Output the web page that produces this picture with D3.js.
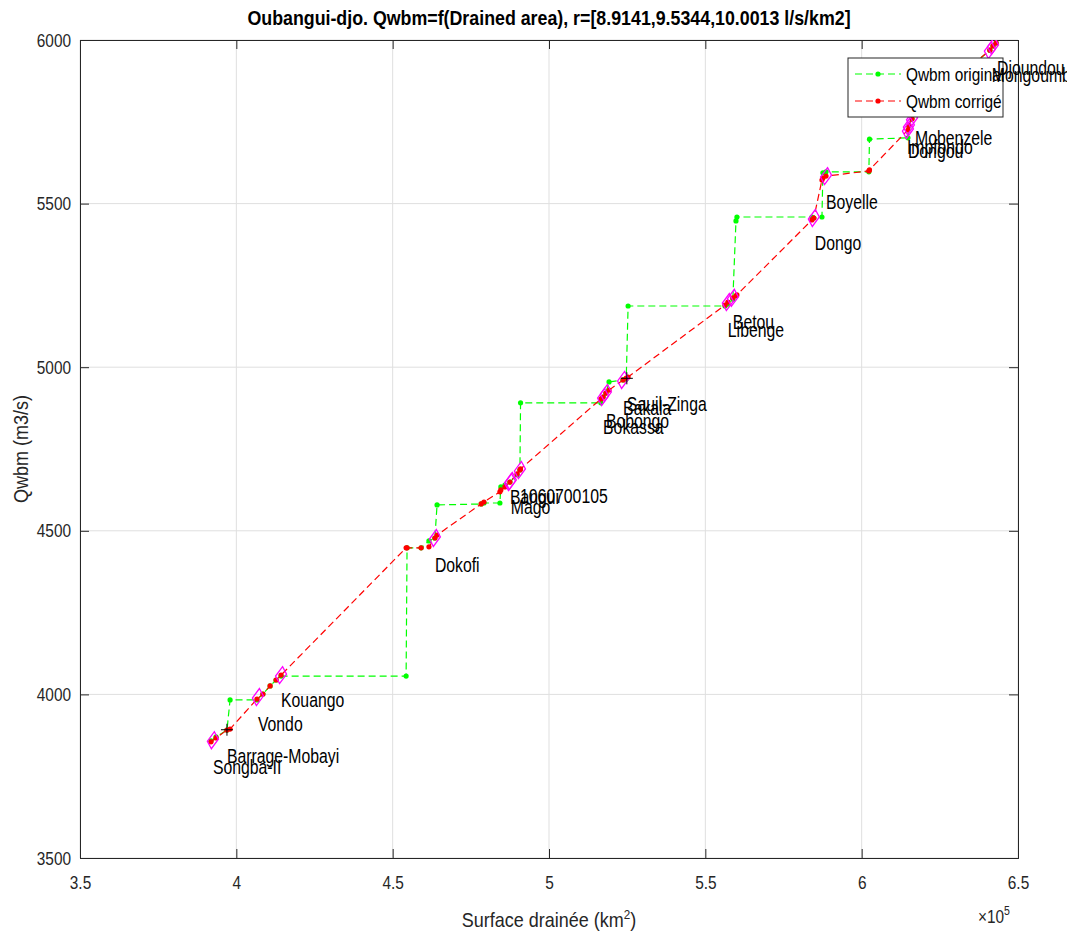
<!DOCTYPE html>
<html><head><meta charset="utf-8">
<script src="https://cdn.jsdelivr.net/npm/d3@7"></script>
<style>
body{margin:0;background:#fff;}
text{font-family:"Liberation Sans",Arial,Helvetica,sans-serif;}
</style></head>
<body><svg id="c" width="1067" height="933"></svg>
<script>
// ---- data ----
const areas = [391900,393500,397000,398000,406600,408500,410800,412700,414300,454300,454600,459100,461600,463500,464200,478300,479200,484300,484600,485900,487500,489800,490700,490900,516600,517300,518200,519200,523700,524700,525300,556300,557200,558800,559800,560100,584100,584700,587300,587600,588600,602300,602500,614800,615100,616100,617100,641000,642000,643000];
const qOriginal = [3858,3870,3891,3983,3983,4001,4026,4044,4056,4056,4448,4448,4469,4478,4579,4582,4585,4585,4634,4640,4649,4671,4686,4891,4891,4909,4921,4955,4961,4964,5187,5187,5193,5208,5447,5459,5459,5456,5459,5594,5597,5597,5697,5701,5737,5759,5774,5969,5982,5991];
const qCorrige = [3855,3867,3891,3894,3986,4001,4026,4044,4059,4448,4448,4448,4451,4478,4487,4582,4588,4619,4625,4634,4649,4674,4686,4689,4903,4909,4921,4930,4961,4967,4970,5190,5199,5212,5218,5221,5450,5456,5572,5578,5584,5600,5603,5725,5737,5759,5774,5969,5982,5991];

const stationNames = ["Songba-II","Vondo","Kouango","Dokofi","Bangui","1060700105","Mago","Bokassa","Bobongo","Bakala","Libenge","Betou","Dongo","Boyelle","Dongou","Impfondo","Mobenzele","Mongoumba","Djoundou"];
const stationAreas = [392500,406900,414300,463500,487500,490700,487800,517300,518200,523700,557200,558800,584700,588600,614800,615100,616100,641000,642000];
const stationQ     = [3860,3992,4059,4478,4649,4686,4652,4909,4921,4961,5199,5212,5456,5584,5725,5737,5759,5969,5982];
const labelDx      = [0,0,0,0,0,0,0,0,0,0,0,0,1,0,0,-2,3,2,4];
const labelDy      = [27,27,25,27,15,26,26,30,28,28,28,24,25,26,21,21,19,25,22];

const crossNames = ["Barrage-Mobayi","Sauil-Zinga"];
const crossAreas = [397000,524900];
const crossQ     = [3892,4966];

const xTicks = [350000,400000,450000,500000,550000,600000,650000];
const xTickLabels = ["3.5","4","4.5","5","5.5","6","6.5"];
const yTicks = [3500,4000,4500,5000,5500,6000];

const titleText = "Oubangui-djo. Qwbm=f(Drained area), r=[8.9141,9.5344,10.0013 l/s/km2]";
const legendLabels = ["Qwbm original","Qwbm corrigé"];
const seriesColors = ["#00ff00","#ff0000"];

// ---- layout ----
const L=80,R=1018,T=40,B=858;
const SX=0.81;
const svg=d3.select("#c");
const x=d3.scaleLinear().domain([350000,650000]).range([L,R]);
const y=d3.scaleLinear().domain([3500,6000]).range([B,T]);

function cond(sel,sx,extra){
  sel.each(function(){
    const t=d3.select(this);
    const px=+t.attr("x")||0, py=+t.attr("y")||0;
    t.attr("x",0).attr("y",0).attr("transform",`translate(${px},${py})${extra||""} scale(${sx},1)`);
  });
}

// grid
svg.append("g").selectAll("line").data(xTicks).join("line")
  .attr("x1",d=>x(d)).attr("x2",d=>x(d)).attr("y1",T).attr("y2",B)
  .attr("stroke","#dfdfdf").attr("stroke-width",1);
svg.append("g").selectAll("line").data(yTicks).join("line")
  .attr("x1",L).attr("x2",R).attr("y1",d=>y(d)).attr("y2",d=>y(d))
  .attr("stroke","#dfdfdf").attr("stroke-width",1);

// axes
const gx=svg.append("g").attr("transform",`translate(0,${B})`)
  .call(d3.axisBottom(x).tickValues(xTicks).tickFormat((d,i)=>xTickLabels[i]).tickSize(-9).tickPadding(18));
const gy=svg.append("g").attr("transform",`translate(${L},0)`)
  .call(d3.axisLeft(y).tickValues(yTicks).tickFormat(d=>String(d)).tickSize(-9).tickPadding(9));
const gx2=svg.append("g").attr("transform",`translate(0,${T})`)
  .call(d3.axisTop(x).tickValues(xTicks).tickFormat("").tickSize(-9));
const gy2=svg.append("g").attr("transform",`translate(${R},0)`)
  .call(d3.axisRight(y).tickValues(yTicks).tickFormat("").tickSize(-9));
[gx,gy,gx2,gy2].forEach(g=>{
  g.selectAll("path").attr("stroke","#262626").attr("stroke-width",1);
  g.selectAll("line").attr("stroke","#262626");
  g.selectAll("text").attr("fill","#262626").style("font-size","19px")
   .style("font-family",'"Liberation Sans",Arial,sans-serif');
});
cond(gx.selectAll("text"),SX);
cond(gy.selectAll("text"),SX);

// clip
svg.append("clipPath").attr("id","clip").append("rect").attr("x",L).attr("y",T).attr("width",R-L).attr("height",B-T);
const plot=svg.append("g").attr("clip-path","url(#clip)");

const line=(q)=>d3.line().x((d,i)=>x(areas[i])).y((d,i)=>y(q[i]));
[qOriginal,qCorrige].forEach((q,k)=>{
  plot.append("path").datum(q).attr("d",line(q)).attr("fill","none")
    .attr("stroke",seriesColors[k]).attr("stroke-width",1.2).attr("stroke-dasharray","7,4");
  plot.append("g").selectAll("circle").data(q).join("circle")
    .attr("cx",(d,i)=>x(areas[i])).attr("cy",d=>y(d)).attr("r",2.6).attr("fill",seriesColors[k]);
});

// diamonds
plot.append("g").selectAll("path").data(stationQ).join("path")
  .attr("d",(d,i)=>{const cx=x(stationAreas[i]),cy=y(d);return `M${cx+1.5},${cy-8.5}L${cx+5.5},${cy-1}L${cx-1.5},${cy+8.5}L${cx-5.5},${cy+1}Z`;})
  .attr("fill","none").attr("stroke","#ff00ff").attr("stroke-width",1.3);
// crosses
plot.append("g").selectAll("path").data(crossQ).join("path")
  .attr("d",(d,i)=>{const cx=x(crossAreas[i]),cy=y(d);return `M${cx-6},${cy}H${cx+6}M${cx},${cy-6}V${cy+6}`;})
  .attr("stroke","#000").attr("stroke-width",1);

// legend
const lg=svg.append("g");
lg.append("rect").attr("x",848).attr("y",58).attr("width",155).attr("height",59)
  .attr("fill","#fff").attr("stroke","#262626").attr("stroke-width",1);
legendLabels.forEach((t,k)=>{
  const yy=74+k*27;
  lg.append("line").attr("x1",855).attr("x2",901).attr("y1",yy).attr("y2",yy)
    .attr("stroke",seriesColors[k]).attr("stroke-width",1.2).attr("stroke-dasharray","7,4");
  lg.append("circle").attr("cx",878).attr("cy",yy).attr("r",2.6).attr("fill",seriesColors[k]);
  const tx=lg.append("text").attr("x",906).attr("y",yy).attr("dy","0.35em").style("font-size","19px")
    .attr("fill","#000").text(t);
  cond(tx,SX);
});

// labels (on top)
const lab=svg.append("g").selectAll("text").data(stationNames).join("text")
  .attr("x",(d,i)=>x(stationAreas[i])+labelDx[i]).attr("y",(d,i)=>y(stationQ[i])+labelDy[i])
  .attr("dy","0.35em").style("font-size","19.5px").attr("fill","#000").text(d=>d);
cond(lab,SX);
const lab2=svg.append("g").selectAll("text").data(crossNames).join("text")
  .attr("x",(d,i)=>x(crossAreas[i])).attr("y",(d,i)=>y(crossQ[i])+26)
  .attr("dy","0.35em").style("font-size","19.5px").attr("fill","#000").text(d=>d);
cond(lab2,SX);

// title & axis labels
const tt=svg.append("text").attr("x",(L+R)/2).attr("y",18).attr("dy","0.35em").attr("text-anchor","middle")
  .style("font-size","20px").style("font-weight","bold").attr("fill","#000").text(titleText);
cond(tt,0.89);
const xl=svg.append("text").attr("x",(L+R)/2).attr("y",920).attr("dy","0.35em").attr("text-anchor","middle")
  .style("font-size","20px").attr("fill","#262626");
xl.append("tspan").text("Surface drainée (km");
xl.append("tspan").attr("dy","-8").style("font-size","13px").text("2");
xl.append("tspan").attr("dy","8").text(")");
cond(xl,0.9);
const yl=svg.append("text").attr("dy","0.35em").attr("text-anchor","middle")
  .style("font-size","20px").attr("fill","#262626").text("Qwbm (m3/s)");
yl.attr("transform","translate(21,449) rotate(-90) scale(0.9,1)");
const ex=svg.append("text").attr("x",978).attr("y",916).attr("dy","0.35em").style("font-size","19px").attr("fill","#262626");
ex.append("tspan").text("×10");
ex.append("tspan").attr("dy","-8").style("font-size","13px").text("5");
cond(ex,SX);
</script></body></html>
